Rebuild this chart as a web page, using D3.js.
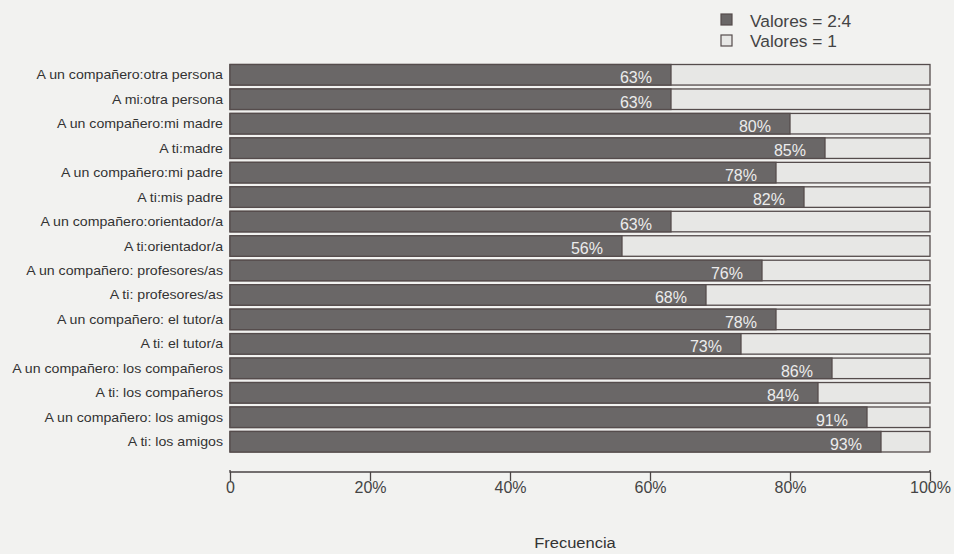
<!DOCTYPE html>
<html><head><meta charset="utf-8">
<script src="https://cdn.jsdelivr.net/npm/d3@7"></script>
<style>body{margin:0;background:#f2f2f0;}svg{display:block;font-family:"Liberation Sans",Arial,sans-serif;}</style>
</head><body><svg id="c" width="954" height="554"></svg>
<script>
const categories = [
  "A un compañero:otra persona","A mi:otra persona","A un compañero:mi madre","A ti:madre",
  "A un compañero:mi padre","A ti:mis padre","A un compañero:orientador/a","A ti:orientador/a",
  "A un compañero: profesores/as","A ti: profesores/as","A un compañero: el tutor/a","A ti: el tutor/a",
  "A un compañero: los compañeros","A ti: los compañeros","A un compañero: los amigos","A ti: los amigos"];
const valores24 = [63,63,80,85,78,82,63,56,76,68,78,73,86,84,91,93];
const seriesNames = ["Valores = 2:4","Valores = 1"];
const tickValues = [0,20,40,60,80,100];
const tickLabels = ["0","20%","40%","60%","80%","100%"];

const svg = d3.select("#c");
const x = d3.scaleLinear().domain([0,100]).range([230,930]);
const y = d3.scaleBand().domain(categories).range([64.5,452]).paddingInner(0.16).paddingOuter(0);
const dark = "#6a6767", light = "#e7e7e5", stroke = "#554c4c";

const g = svg.append("g");
const rows = g.selectAll("g.row").data(categories).join("g");
rows.append("rect").attr("x",x(0)).attr("y",d=>y(d)).attr("width",x(100)-x(0)).attr("height",y.bandwidth())
  .attr("fill",light).attr("stroke",stroke).attr("stroke-width",1.3);
rows.append("rect").attr("x",x(0)).attr("y",d=>y(d)).attr("width",(d,i)=>x(valores24[i])-x(0)).attr("height",y.bandwidth())
  .attr("fill",dark).attr("stroke",stroke).attr("stroke-width",1.3);
rows.append("text").attr("x",(d,i)=>x(valores24[i])-19).attr("y",d=>y(d)+y.bandwidth()-2)
  .attr("text-anchor","end").attr("fill","#ececec").attr("font-size",16).text((d,i)=>valores24[i]+"%");
rows.append("text").attr("transform",d=>`translate(223,${y(d)+y.bandwidth()/2+4.5}) scale(1.09,1)`)
  .attr("text-anchor","end").attr("fill","#333").attr("font-size",13).text(d=>d);

// axis
const ax = svg.append("g").attr("transform","translate(0,472)")
  .call(d3.axisBottom(x).tickValues(tickValues).tickFormat((d,i)=>tickLabels[i]).tickSize(9).tickPadding(3));
ax.select(".domain").attr("stroke","#4a4444").attr("stroke-width",1.4).attr("d",`M${x(0)},-2V0H${x(100)}V-2`);
ax.selectAll(".tick line").attr("stroke","#4a4444").attr("stroke-width",1.3).attr("y1",0);
ax.selectAll(".tick text").attr("fill","#444").attr("font-size",16).attr("font-family","'Liberation Sans',Arial,sans-serif").attr("y",10);

svg.append("text").attr("transform","translate(575,548) scale(1.1,1)").attr("text-anchor","middle")
  .attr("fill","#333").attr("font-size",15).text("Frecuencia");

// legend
const lg = svg.append("g");
seriesNames.forEach((s,i)=>{
  lg.append("rect").attr("x",721).attr("y",14+i*21).attr("width",11).attr("height",11)
    .attr("fill",i===0?dark:light).attr("stroke",stroke).attr("stroke-width",1.2);
  lg.append("text").attr("transform",`translate(750,${27+i*20}) scale(1.05,1)`).attr("fill","#444").attr("font-size",16.5).text(s);
});
</script></body></html>
